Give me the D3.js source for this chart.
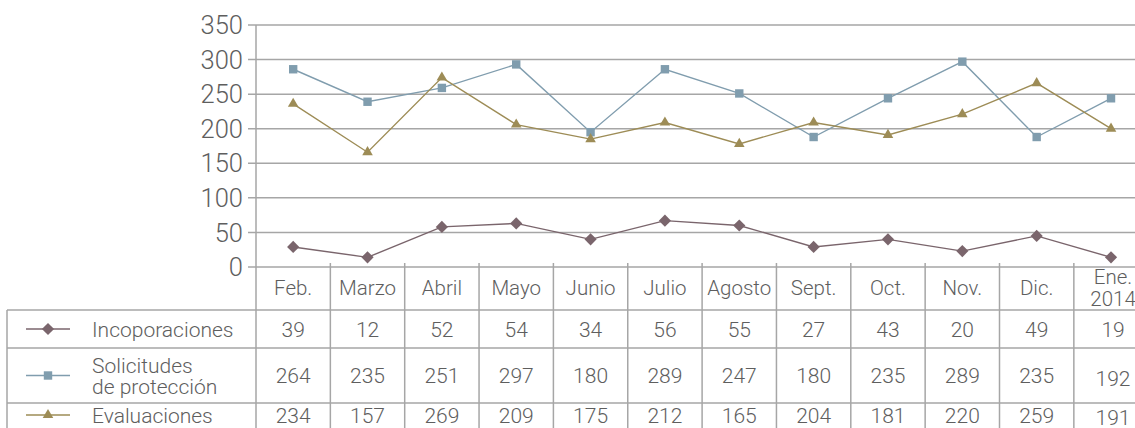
<!DOCTYPE html>
<html>
<head>
<meta charset="utf-8">
<script src="https://cdn.jsdelivr.net/npm/d3@7"></script>
<style>
  body { margin: 0; background: #fff; }
  svg { display: block; font-family: Roboto, "Liberation Sans", Arial, sans-serif; font-weight: 300; }
</style>
</head>
<body>
<div id="chart"></div>
<script>
// Categories (months)
const months = ['Feb.', 'Marzo', 'Abril', 'Mayo', 'Junio', 'Julio', 'Agosto', 'Sept.', 'Oct.', 'Nov.', 'Dic.', 'Ene.\n2014'];
const yTicks = [0, 50, 100, 150, 200, 250, 300, 350];

// Values printed in the table
const incorporacionesTable = [39, 12, 52, 54, 34, 56, 55, 27, 43, 20, 49, 19];
const solicitudesTable = [264, 235, 251, 297, 180, 289, 247, 180, 235, 289, 235, 192];
const evaluacionesTable = [234, 157, 269, 209, 175, 212, 165, 204, 181, 220, 259, 191];

// Values as plotted in the chart
const incorporacionesPlot = [29, 14, 58, 63, 40, 67, 60, 29, 40, 23, 45, 14];
const solicitudesPlot = [286, 239, 259, 293, 195, 286, 251, 188, 244, 297, 188, 244];
const evaluacionesPlot = [236, 166, 274, 206, 185, 209, 178, 209, 191, 221, 266, 200];

const seriesNames = ['Incoporaciones', 'Solicitudes\nde protección', 'Evaluaciones'];

const width = 1135, height = 428;
const textColor = '#5e5e5e';
const gridColor = '#a6a6a6';

const series = [
    { name: seriesNames[0], plot: incorporacionesPlot, table: incorporacionesTable, color: '#7a656c', symbol: d3.symbolDiamond2, size: 95 },
    { name: seriesNames[1], plot: solicitudesPlot, table: solicitudesTable, color: '#809dae', symbol: d3.symbolSquare2, size: 90 },
    { name: seriesNames[2], plot: evaluacionesPlot, table: evaluacionesTable, color: '#9d8c56', symbol: d3.symbolTriangle2, size: 80 }
];

const svg = d3.select('#chart')
    .append('svg')
    .attr('width', width)
    .attr('height', height);

// Scales
const x = d3.scaleBand()
    .domain(months)
    .range([256, 256 + 12 * 74.35]);

const y = d3.scaleLinear()
    .domain([0, 350])
    .range([267, 25]);

// Gridlines and y labels
const yAxis = svg.append('g');
yAxis.selectAll('line')
    .data(yTicks)
    .enter()
    .append('line')
    .attr('x1', 248)
    .attr('x2', width)
    .attr('y1', d => y(d))
    .attr('y2', d => y(d))
    .attr('stroke', gridColor)
    .attr('stroke-width', 1.5);

yAxis.selectAll('text')
    .data(yTicks)
    .enter()
    .append('text')
    .attr('x', 243)
    .attr('y', d => y(d))
    .attr('dy', '0.36em')
    .attr('text-anchor', 'end')
    .attr('font-size', 25.5)
    .attr('fill', textColor)
    .text(d => d);

// Table grid
const tableTop = 310;
const rowBottoms = [348, 403];
const grid = svg.append('g').attr('stroke', gridColor).attr('stroke-width', 1.5);

// vertical axis line running through the table
grid.append('line')
    .attr('x1', 256).attr('x2', 256)
    .attr('y1', y(350)).attr('y2', height);

// column separators
grid.selectAll('.sep')
    .data(months.slice(1))
    .enter()
    .append('line')
    .attr('class', 'sep')
    .attr('x1', d => x(d)).attr('x2', d => x(d))
    .attr('y1', 263).attr('y2', height);

// left border of legend box
grid.append('line')
    .attr('x1', 7).attr('x2', 7)
    .attr('y1', tableTop).attr('y2', height);

// horizontal lines
grid.selectAll('.hline')
    .data([tableTop].concat(rowBottoms))
    .enter()
    .append('line')
    .attr('class', 'hline')
    .attr('x1', 7).attr('x2', width)
    .attr('y1', d => d).attr('y2', d => d);

// Month labels
const monthLabels = svg.append('g')
    .attr('font-size', 20.5)
    .attr('fill', textColor)
    .attr('text-anchor', 'middle');

months.forEach(m => {
    const lines = m.split('\n');
    lines.forEach((l, i) => {
        monthLabels.append('text')
            .attr('x', x(m) + x.bandwidth() / 2 + (lines.length > 1 ? 2 : 0))
            .attr('y', lines.length > 1 ? 284 + i * 22 : 295)
            .text(l);
    });
});

// Table rows
const rowCenters = [329, 375.5, 415];
series.forEach((s, i) => {
    const row = svg.append('g');
    const cy = rowCenters[i];

    // legend line + marker
    row.append('line')
        .attr('x1', 26).attr('x2', 70)
        .attr('y1', cy).attr('y2', cy)
        .attr('stroke', s.color)
        .attr('stroke-width', 1.3);
    row.append('path')
        .attr('d', d3.symbol().type(s.symbol).size(s.size)())
        .attr('transform', `translate(48,${cy})`)
        .attr('fill', s.color);

    // series name
    const lines = s.name.split('\n');
    lines.forEach((l, j) => {
        row.append('text')
            .attr('font-size', 21)
            .attr('fill', textColor)
            .attr('x', 92)
            .attr('y', cy + (j - (lines.length - 1) / 2) * 21)
            .attr('dy', '0.36em')
            .text(l);
    });

    // values
    row.selectAll('.val')
        .data(s.table)
        .enter()
        .append('text')
        .attr('class', 'val')
        .attr('x', (d, k) => x(months[k]) + x.bandwidth() / 2 + (k === 11 ? 2 : 0))
        .attr('y', (d, k) => cy + (k === 11 && i > 0 ? 2.5 : 0))
        .attr('dy', '0.36em')
        .attr('text-anchor', 'middle')
        .attr('font-size', 21)
        .attr('fill', textColor)
        .text(d => d);
});

// Lines and markers
const line = d3.line()
    .x((d, k) => x(months[k]) + x.bandwidth() / 2)
    .y(d => y(d));

series.forEach(s => {
    svg.append('path')
        .datum(s.plot)
        .attr('d', line)
        .attr('fill', 'none')
        .attr('stroke', s.color)
        .attr('stroke-width', 1.4);

    svg.append('g')
        .selectAll('path')
        .data(s.plot)
        .enter()
        .append('path')
        .attr('d', d3.symbol().type(s.symbol).size(s.size))
        .attr('transform', (d, k) => `translate(${x(months[k]) + x.bandwidth() / 2},${y(d)})`)
        .attr('fill', s.color);
});
</script>
</body>
</html>
